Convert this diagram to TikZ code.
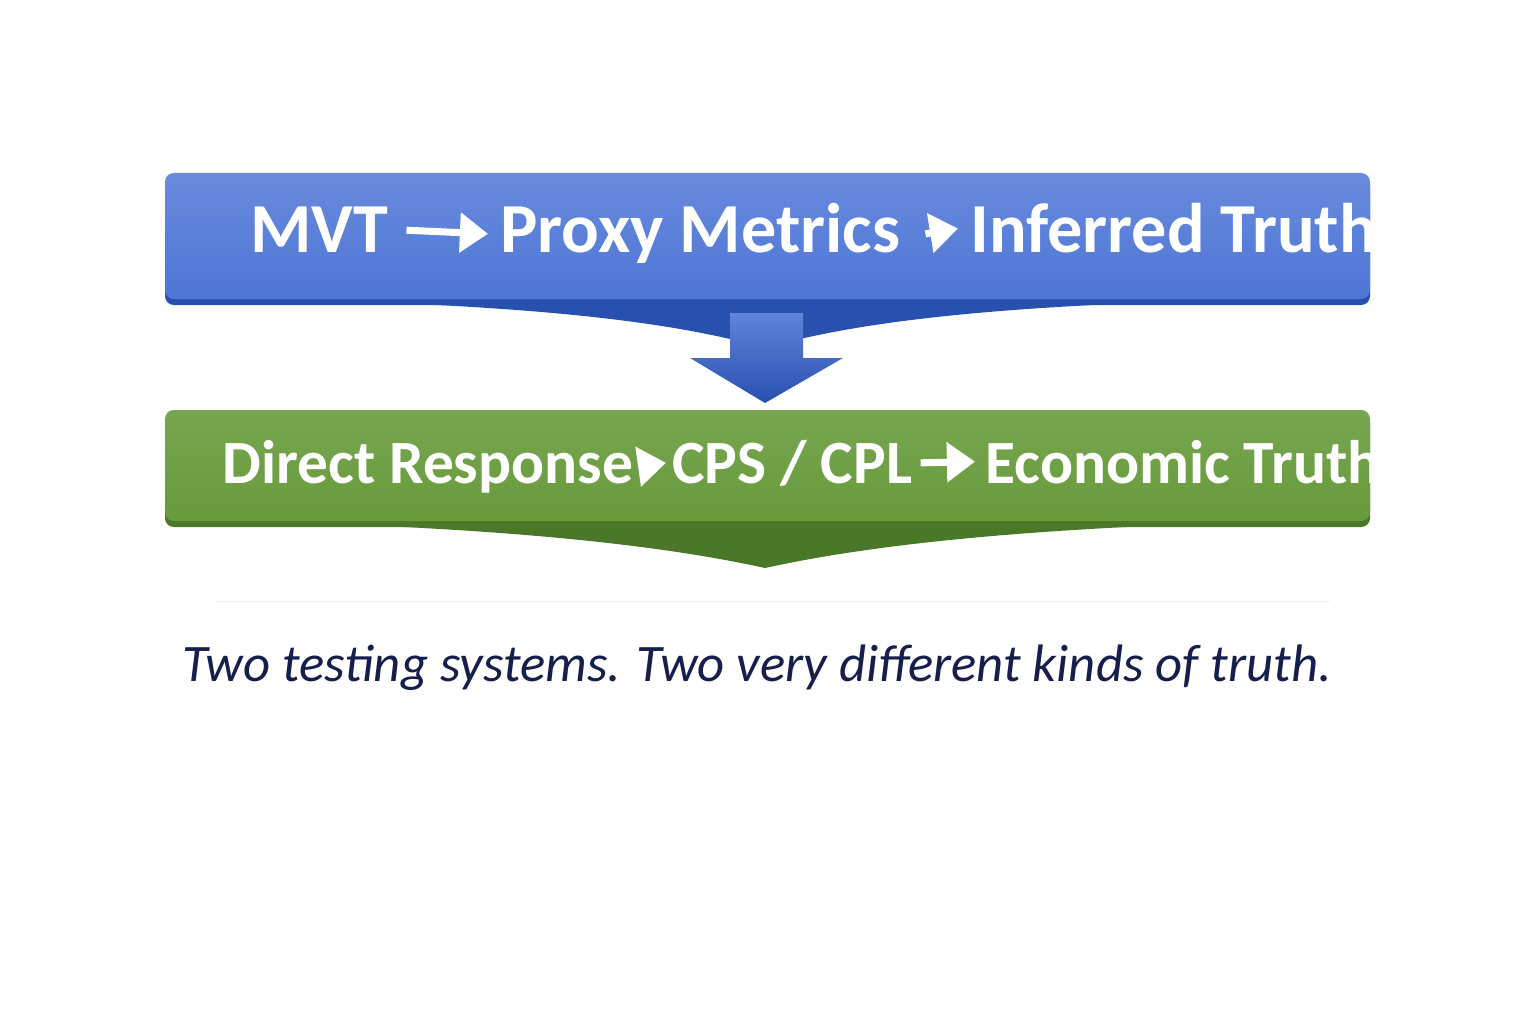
\documentclass[tikz,border=0pt]{standalone}
\usepackage{fontspec}
\setmainfont{Carlito}
\usetikzlibrary{arrows.meta,positioning,calc,shadows}
\definecolor{flowblue}{RGB}{78,118,214}
\definecolor{flowbluedark}{RGB}{40,80,175}
\definecolor{flowgreen}{RGB}{104,155,60}
\definecolor{flowgreendark}{RGB}{75,120,40}
\definecolor{captionnavy}{RGB}{22,30,75}
\tikzset{
  steptext/.style={text=white,font=\bfseries\fontsize{40}{44}\selectfont,inner sep=0pt,anchor=base west},
  smalltext/.style={steptext,font=\bfseries\fontsize{35}{40}\selectfont},
  steparrow/.style={white,line width=4pt,-{Triangle[length=16pt,width=22pt]}}
}
\begin{document}
\begin{tikzpicture}[x=0.02cm,y=-0.02cm]
    \useasboundingbox (0,0) rectangle (1536,1024);
    % Blue band with taper and arrow
    \fill[flowbluedark] (200,298) .. controls (500,302) and (660,318) .. (765,348)
        .. controls (870,318) and (1030,302) .. (1330,298) -- cycle;
    \fill[flowbluedark,rounded corners=5] (165,177) rectangle (1370,305);
    \shade[top color=flowblue!85!white,bottom color=flowblue,rounded corners=5] (165,173) rectangle (1370,299);
    \shade[top color=flowblue!90!white,bottom color=flowbluedark] (730,313) -- (803,313) -- (803,358) -- (843,358)
        -- (765,403) -- (690,358) -- (730,358) -- cycle;
    % Green band with taper
    \fill[flowgreendark] (200,520) .. controls (500,526) and (660,545) .. (765,568)
        .. controls (870,545) and (1030,526) .. (1330,520) -- cycle;
    \fill[flowgreendark,rounded corners=5] (165,414) rectangle (1370,527);
    \shade[top color=flowgreen!90!white,bottom color=flowgreen,rounded corners=5] (165,410) rectangle (1370,521);
    \draw[black!6] (215,601) -- (1330,601);
    % Upper row
    \node[steptext] (mvt) at (250,253) {MVT};
    \node[steptext] (proxy) at (500,253) {Proxy Metrics};
    \node[steptext] (inferred) at (970,253) {Inferred Truth};
    \draw[steparrow] ($(mvt.east)+(18,0)$) -- ($(proxy.west)+(-12,0)$);
    \draw[steparrow] ($(proxy.east)+(25,0)$) -- ($(inferred.west)+(-12,0)$);
    % Lower row
    \node[smalltext] (direct) at (222,483) {Direct Response};
    \node[smalltext] (cps) at (672,483) {CPS / CPL};
    \node[smalltext] (economic) at (985,483) {Economic Truth};
    \draw[steparrow] ($(direct.east)+(8,0)$) -- ($(cps.west)+(-6,0)$);
    \draw[steparrow] ($(cps.east)+(8,0)$) -- ($(economic.west)+(-10,0)$);
    % Caption
    \node[text=captionnavy,font=\itshape\fontsize{30}{36}\selectfont] (caption) at (757,668)
        {Two testing systems. Two very different kinds of truth.};
\end{tikzpicture}
\end{document}
